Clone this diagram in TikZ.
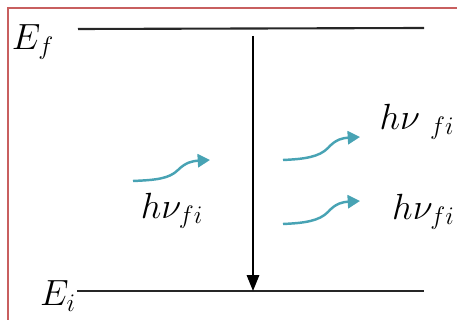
\documentclass[tikz,border=0pt]{standalone}
\usepackage{amsmath}
\usepackage{xcolor}
\usepackage{tikz}
\usetikzlibrary{arrows.meta, calc}

\definecolor{photon}{RGB}{72,163,180}
\definecolor{frame}{RGB}{200,95,95}

\begin{document}
\begin{tikzpicture}[
			x=0.02cm, y=-0.02cm,
			level/.style={line width=1.2pt, draw=black!85},
			trans/.style={-{Triangle[length=9pt, width=7pt]}, line width=1.1pt, draw=black},
			wave/.style={-{Triangle[length=7pt, width=7.5pt]}, line width=1.4pt, draw=photon},
			lbl/.style={font=\fontsize{20.5}{24}\selectfont, inner sep=0pt}
			]
			\useasboundingbox (0,0) rectangle (457,320);
			
			% Frame
			\draw[frame, line width=0.6pt] (8,320) -- (8,8) -- (457,8);
			
			% Energy levels
			\coordinate (ftop_l) at (78,29);
			\coordinate (ftop_r) at (424,28);
			\coordinate (ibot_l) at (77,291);
			\coordinate (ibot_r) at (424,291);
			\draw[level] (ftop_l) -- (ftop_r);
			\draw[level] (ibot_l) -- (ibot_r);
			\node[lbl] (Ef) at (33,42) {$E_f$};
			\node[lbl] (Ei) at (58,296) {$E_i$};
			
			% Transition
			\coordinate (tr_top) at (253,36);
			\coordinate (tr_bot) at (253,291);
			\draw[trans] (tr_top) -- (tr_bot);
			
			% Photons
			\coordinate (in_a)  at (133,181);
			\coordinate (in_b)  at (210,160);
			\coordinate (out1_a) at (283,160);
			\coordinate (out1_b) at (360,137);
			\coordinate (out2_a) at (283,224);
			\coordinate (out2_b) at (360,201);
			\draw[wave] (in_a) .. controls ($(in_a)+(22,-1)$) and ($(in_a)+(36,-2)$) .. ($(in_a)+(45,-11)$) .. controls ($(in_a)+(53,-19)$) and ($(in_a)+(60,-20)$) .. (in_b);
			\draw[wave] (out1_a) .. controls ($(out1_a)+(22,-1)$) and ($(out1_a)+(36,-3)$) .. ($(out1_a)+(45,-12)$) .. controls ($(out1_a)+(53,-21)$) and ($(out1_a)+(60,-22)$) .. (out1_b);
			\draw[wave] (out2_a) .. controls ($(out2_a)+(22,-1)$) and ($(out2_a)+(36,-3)$) .. ($(out2_a)+(45,-12)$) .. controls ($(out2_a)+(53,-21)$) and ($(out2_a)+(60,-22)$) .. (out2_b);
			\node[lbl] (hv_in)   at (172,211) {$h\nu_{fi}$};
			\node[lbl] (hv_out1) at (417,122) {$h\nu\;{}_{fi}$};
			\node[lbl, anchor=east] (hv_out2) at (455,212) {$h\nu_{fi}$};
			
		\end{tikzpicture}
\end{document}
